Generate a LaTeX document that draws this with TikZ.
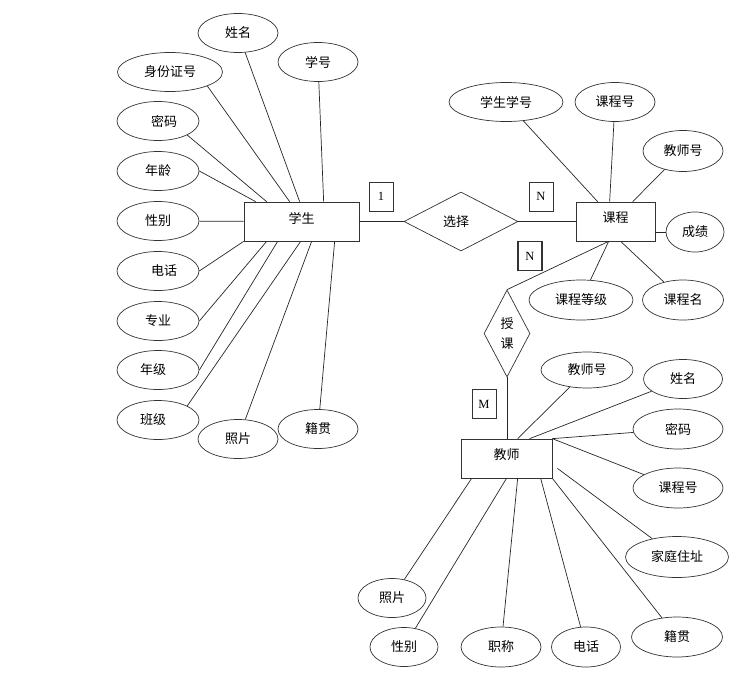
\documentclass[tikz,border=0pt]{standalone}
\usepackage{fontspec}
\setmainfont{Noto Sans CJK SC}
\newfontfamily\cardfont{Liberation Serif}
\usetikzlibrary{shapes.geometric,calc}
\tikzset{
      base/.style = {draw=black!80, line width=0.7pt, inner sep=0pt, % <---
                     font=\fontsize{13}{15}\selectfont, align=center},
    entity/.style = {base, rectangle, minimum height=39pt, text depth=8pt},
      attr/.style = {base, ellipse, minimum width=80pt, minimum height=39pt},
  relation/.style = {base, diamond},
      card/.style = {base, rectangle, minimum width=24pt, minimum height=29pt,
                     font=\cardfont\fontsize{12.5}{14}\selectfont},
      link/.style = {draw=black!85, line width=0.7pt},
        }

\begin{document}
\begin{tikzpicture}[x=1pt, y=-1pt]
\useasboundingbox (0,0) rectangle (749,680);

% student
\node[entity, minimum width=115pt] (stu) at (301.5,221.5) {学生};
\node[attr] (sname) at (238,33) {姓名};
\node[attr] (sno) at (318,62) {学号};
\node[attr, minimum width=105pt] (sid) at (170,72) {身份证号};
\node[attr, minimum width=82pt] (spwd) at (158,121) {\hspace{12pt}密码};
\node[attr, minimum width=82pt] (sage) at (158,171) {年龄};
\node[attr, minimum width=82pt] (ssex) at (158,221) {性别};
\node[attr, minimum width=82pt] (stel) at (158,271) {\hspace{12pt}电话};
\node[attr, minimum width=82pt] (smajor) at (158,321) {专业};
\node[attr, minimum width=82pt] (sgrade) at (158,370) {年级\hspace{10pt}};
\node[attr, minimum width=82pt] (sclass) at (158,420) {班级\hspace{10pt}};
\node[attr] (sphoto) at (238,439) {照片};
\node[attr] (sorigin) at (318,429) {籍贯};

\draw[link] (sname) -- ([xshift=56pt]stu.north west);
\draw[link] (sno) -- ([xshift=80pt]stu.north west);
\draw[link] (sid.south east) -- ([xshift=46pt]stu.north west);
\draw[link] (spwd.south east) -- ([xshift=23pt]stu.north west);
\draw[link] (sage.east) -- ([xshift=12pt]stu.north west);
\draw[link] (ssex) -- (stu);
\draw[link] (stel.east) -- (stu.south west);
\draw[link] (smajor.east) -- ([xshift=23pt]stu.south west);
\draw[link] (sgrade.east) -- ([xshift=34pt]stu.south west);
\draw[link] (sclass.north east) -- ([xshift=57pt]stu.south west);
\draw[link] (sphoto) -- ([xshift=68pt]stu.south west);
\draw[link] (sorigin) -- ([xshift=91pt]stu.south west);

% select
\node[relation, minimum width=114pt, minimum height=59pt] (sel) at (461,221.5) {选择\hspace{10pt}};
\node[card] (c1) at (381,196.5) {1};
\node[card] (cn1) at (541,196.5) {N};

% course
\node[entity, minimum width=79pt] (course) at (615.5,221.5) {课程};
\node[attr, minimum width=114pt] (cstuno) at (506,102) {学生学号};
\node[attr] (cno) at (615,102) {课程号};
\node[attr, minimum height=41pt] (ctno) at (683,151) {教师号};
\node[attr, minimum width=58pt, minimum height=40pt] (cscore) at (695,232) {成绩};
\node[attr, minimum width=104pt, minimum height=40pt] (clevel) at (581,300) {课程等级};
\node[attr, minimum width=81pt, minimum height=40pt] (cname) at (683,300) {课程名};

\draw[link] (stu.east) -- (sel.west);
\draw[link] (sel.east) -- (course.west);
\draw[link] (cstuno) -- ([xshift=22pt]course.north west);
\draw[link] (cno) -- ([xshift=34pt]course.north west);
\draw[link] (ctno) -- ([xshift=57pt]course.north west);
\draw[link] (cscore) -- ([yshift=-10.5pt]course.east);
\draw[link] (clevel) -- ([xshift=33pt]course.south west);
\draw[link] (cname) -- ([xshift=45pt]course.south west);

% teach
\node[relation, minimum width=46pt, minimum height=87pt,
      font=\fontsize{13}{20}\selectfont] (teach) at (507,333.5) {授\\课};
\node[card, line width=1.2pt] (cn2) at (530,256) {N};
\node[card] (cm) at (484,404) {M};

% teacher
\node[entity, minimum width=91pt] (teacher) at (506.5,458.5) {教师};
\node[attr, minimum width=92pt, minimum height=36pt] (tno) at (587,370) {教师号};
\node[attr, minimum width=79pt] (tname) at (683,379) {姓名};
\node[attr, minimum width=90pt, minimum height=40pt] (tpwd) at (678,429) {密码};
\node[attr, minimum width=90pt, minimum height=40pt] (tcno) at (678,488) {课程号};
\node[attr, minimum width=103pt, minimum height=41pt] (taddr) at (677,557) {家庭住址};
\node[attr, minimum width=68pt] (tphoto) at (392,598) {照片};
\node[attr, minimum width=68pt] (tsex) at (404,647) {性别};
\node[attr, minimum height=40pt] (ttitle) at (501,647) {职称};
\node[attr, minimum width=69pt, minimum height=40pt] (ttel) at (586,647) {电话};
\node[attr, minimum width=91pt, minimum height=40pt] (torigin) at (677,637) {籍贯};

\draw[link] (teach.north) -- ([xshift=33pt]course.south west);
\draw[link] (teach.south) -- (teach.south |- teacher.north);
\draw[link] (tno) -- ([xshift=57pt]teacher.north west);
\draw[link] (tname) -- ([xshift=69pt]teacher.north west);
\draw[link] (tpwd) -- (teacher.north east);
\draw[link] (tcno) -- (teacher.north east);
\draw[link] (taddr) -- ([xshift=5pt,yshift=10pt]teacher.south east);
\draw[link] (tphoto) -- ([xshift=11pt]teacher.south west);
\draw[link] (tsex) -- (teacher.south);
\draw[link] (ttitle) -- ([xshift=57pt]teacher.south west);
\draw[link] (ttel) -- ([xshift=80pt]teacher.south west);
\draw[link] (torigin) -- (teacher.south east);
\end{tikzpicture}
\end{document}
